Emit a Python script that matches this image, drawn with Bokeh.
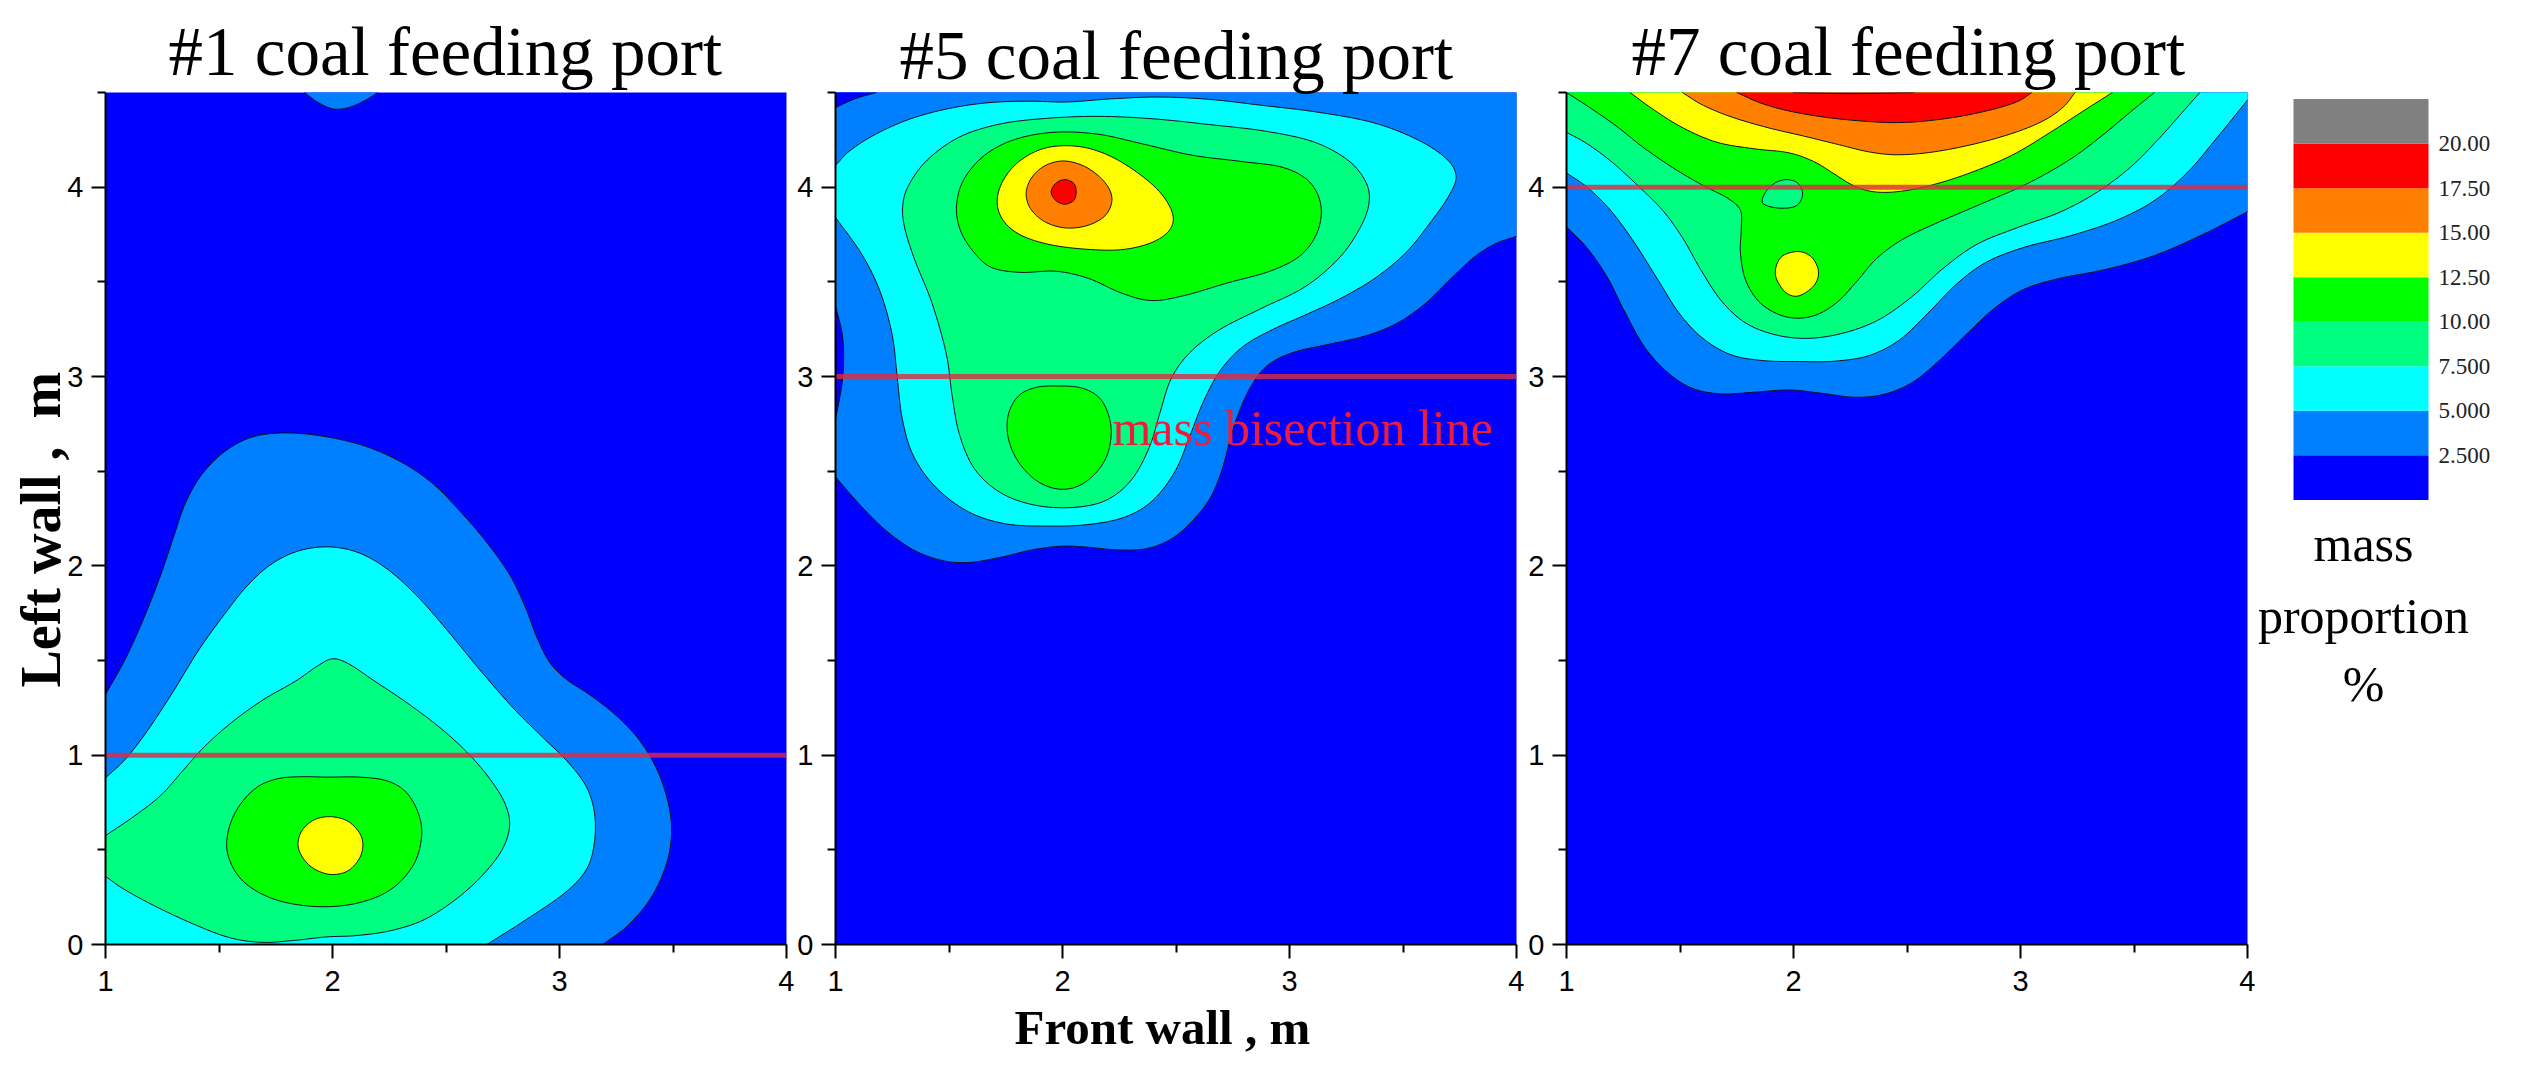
import numpy as np
from bokeh.plotting import figure
from bokeh.layouts import row
from bokeh.models import Range1d, FixedTicker, Label, ColumnDataSource, Title
from bokeh.core.properties import value
from bokeh.embed import file_html
from bokeh.resources import INLINE

# ---------------- categories / levels ----------------
TITLES = ["#1 coal feeding port", "#5 coal feeding port", "#7 coal feeding port"]
LEVELS = [0.0, 2.5, 5.0, 7.5, 10.0, 12.5, 15.0, 17.5, 20.0, 22.5]
LEVEL_LABELS = ["2.500", "5.000", "7.500", "10.00", "12.50", "15.00", "17.50", "20.00"]
LEVEL_COLORS = ["#0000ff", "#0080ff", "#00ffff", "#00ff80", "#00ff00",
                "#ffff00", "#ff8000", "#ff0000", "#808080"]
X_TICKS = [1, 2, 3, 4]
X_MINOR = [1.5, 2.5, 3.5]
Y_TICKS = [0, 1, 2, 3, 4]
Y_MINOR = [0.5, 1.5, 2.5, 3.5, 4.5]
BISECTION = [1.0, 3.0, 4.0]

# ---------------- contour lines (front wall, left wall) ----------------
# Panel #1
A_25 = [(1.0,1.32),(1.09,1.50),(1.18,1.75),(1.25,1.97),(1.295,2.13),(1.35,2.35),(1.42,2.49),(1.53,2.62),
        (1.64,2.69),(1.78,2.71),(1.96,2.69),(2.15,2.64),(2.31,2.55),(2.45,2.44),(2.56,2.29),(2.68,2.13),
        (2.79,1.95),(2.85,1.79),(2.90,1.61),(2.955,1.48),(3.02,1.40),(3.14,1.32),(3.255,1.21),(3.36,1.08),
        (3.44,0.92),(3.49,0.72),(3.50,0.575),(3.475,0.41),(3.405,0.23),(3.30,0.087),(3.19,0.0)]
A_25_TOP = [(1.876,4.5),(1.94,4.44),(2.01,4.40),(2.08,4.42),(2.15,4.46),(2.2,4.5)]
A_50 = [(1.0,0.88),(1.09,0.97),(1.18,1.12),(1.295,1.32),(1.41,1.57),(1.53,1.75),(1.62,1.90),(1.73,2.02),
        (1.85,2.09),(1.99,2.11),(2.12,2.08),(2.25,1.985),(2.38,1.84),(2.52,1.64),(2.655,1.44),(2.805,1.23),
        (2.93,1.09),(3.05,0.955),(3.13,0.83),(3.16,0.70),(3.16,0.54),(3.13,0.39),(3.05,0.285),(2.84,0.12),(2.68,0.0)]
A_75 = [(1.0,0.575),(1.13,0.68),(1.25,0.78),(1.34,0.92),(1.43,1.045),(1.55,1.17),(1.69,1.30),(1.85,1.39),
        (1.94,1.48),(2.0,1.525),(2.07,1.49),(2.17,1.40),(2.33,1.28),(2.49,1.135),(2.61,1.0),(2.70,0.87),
        (2.77,0.74),(2.79,0.63),(2.76,0.50),(2.655,0.35),(2.54,0.23),(2.40,0.115),(2.26,0.07),(2.10,0.04),
        (1.975,0.047),(1.825,0.018),(1.69,0.005),(1.55,0.024),(1.39,0.105),(1.20,0.21),(1.065,0.30),(1.0,0.36)]
A_100 = [(1.85,0.89),(1.975,0.88),(2.125,0.89),(2.25,0.87),(2.33,0.82),(2.39,0.68),(2.40,0.575),(2.37,0.41),
         (2.26,0.27),(2.10,0.205),(1.92,0.19),(1.73,0.23),(1.595,0.32),(1.53,0.465),(1.53,0.575),(1.57,0.72),
         (1.66,0.84),(1.75,0.88)]
A_125 = [(1.99,0.68),(2.07,0.665),(2.125,0.59),(2.14,0.53),(2.125,0.45),(2.07,0.375),(1.99,0.36),(1.91,0.395),
         (1.86,0.465),(1.84,0.53),(1.86,0.61),(1.92,0.67)]

# Panel #5
B_25 = [(4.0,3.74),(3.91,3.71),(3.82,3.645),(3.71,3.52),(3.60,3.375),(3.47,3.27),(3.34,3.21),(3.165,3.167),
        (3.01,3.135),(2.90,3.07),(2.84,2.98),(2.78,2.83),(2.74,2.69),(2.705,2.50),(2.66,2.355),(2.57,2.23),
        (2.485,2.135),(2.375,2.08),(2.245,2.08),(2.11,2.10),(2.0,2.11),(1.87,2.09),(1.72,2.04),(1.585,2.01),
        (1.475,2.02),(1.345,2.07),(1.21,2.19),(1.10,2.33),(1.0,2.47)]
B_00_CORNER = [(1.0,4.42),(1.08,4.47),(1.18,4.5)]
B_00_LEFT = [(1.0,3.375),(1.04,3.21),(1.04,3.0),(1.0,2.77)]
B_50 = [(1.0,4.115),(1.05,4.19),(1.17,4.28),(1.32,4.365),(1.50,4.42),(1.67,4.45),(1.85,4.46),(2.02,4.44),
        (2.20,4.47),(2.42,4.48),(2.64,4.47),(2.88,4.43),(3.12,4.40),(3.385,4.35),(3.58,4.25),(3.71,4.145),
        (3.75,4.06),(3.71,3.96),(3.63,3.83),(3.52,3.645),(3.385,3.52),(3.23,3.41),(3.08,3.33),(2.925,3.25),
        (2.79,3.17),(2.69,3.04),(2.62,2.875),(2.56,2.69),(2.51,2.50),(2.40,2.33),(2.29,2.25),(2.11,2.21),
        (1.94,2.21),(1.74,2.21),(1.585,2.27),(1.43,2.41),(1.33,2.58),(1.29,2.77),(1.27,3.0),(1.26,3.21),
        (1.20,3.46),(1.125,3.645),(1.0,3.84)]
B_75 = [(1.29,3.90),(1.31,4.0),(1.39,4.145),(1.54,4.28),(1.72,4.34),(1.915,4.365),(2.155,4.38),(2.40,4.365),
        (2.64,4.33),(2.90,4.30),(3.12,4.25),(3.275,4.145),(3.35,4.02),(3.36,3.92),(3.32,3.79),(3.23,3.625),
        (3.08,3.46),(2.86,3.355),(2.68,3.25),(2.55,3.125),(2.47,3.0),(2.43,2.81),(2.39,2.625),(2.31,2.44),
        (2.20,2.33),(2.05,2.30),(1.87,2.31),(1.72,2.375),(1.60,2.50),(1.54,2.69),(1.51,2.90),(1.50,3.10),
        (1.43,3.40),(1.34,3.625),(1.30,3.79)]
B_100_UP = [(1.525,3.90),(1.55,4.04),(1.65,4.18),(1.78,4.26),(1.96,4.30),(2.155,4.29),(2.35,4.23),(2.57,4.16),
            (2.79,4.135),(2.99,4.115),(3.10,4.04),(3.155,3.90),(3.13,3.75),(3.055,3.625),(2.925,3.55),(2.725,3.50),
            (2.53,3.42),(2.39,3.385),(2.265,3.43),(2.11,3.53),(1.98,3.57),(1.805,3.54),(1.67,3.56),(1.60,3.67),(1.54,3.77)]
B_100_LOW = [(1.97,2.95),(2.09,2.95),(2.17,2.90),(2.21,2.79),(2.22,2.69),(2.20,2.56),(2.13,2.46),(2.05,2.40),
             (1.96,2.40),(1.87,2.45),(1.79,2.56),(1.75,2.69),(1.755,2.81),(1.80,2.91),(1.88,2.95)]
B_125 = [(2.06,4.225),(2.18,4.19),(2.31,4.10),(2.44,3.98),(2.50,3.85),(2.485,3.77),(2.40,3.70),(2.265,3.66),
         (2.11,3.67),(1.94,3.69),(1.805,3.74),(1.73,3.82),(1.70,3.92),(1.73,4.04),(1.805,4.145),(1.915,4.22)]
B_150 = [(2.01,4.15),(2.11,4.115),(2.20,4.02),(2.23,3.94),(2.20,3.84),(2.11,3.79),(2.01,3.775),(1.915,3.81),
         (1.85,3.885),(1.83,3.97),(1.86,4.06),(1.925,4.125)]
B_175 = [(2.01,4.04),(2.05,4.02),(2.06,3.975),(2.05,3.93),(2.01,3.91),(1.97,3.93),(1.95,3.975),(1.97,4.02)]

# Panel #7
C_25 = [(1.0,3.79),(1.09,3.69),(1.18,3.54),(1.26,3.33),(1.34,3.14),(1.45,3.01),(1.55,2.925),(1.68,2.90),
        (1.82,2.915),(1.99,2.94),(2.13,2.91),(2.28,2.88),(2.405,2.90),(2.53,2.96),(2.63,3.07),(2.76,3.22),
        (2.885,3.37),(3.01,3.47),(3.155,3.52),(3.38,3.56),(3.59,3.63),(3.80,3.745),(4.0,3.87)]
C_50 = [(1.0,4.075),(1.09,4.01),(1.20,3.88),(1.30,3.71),(1.41,3.50),(1.49,3.33),(1.59,3.20),(1.72,3.10),
        (1.86,3.08),(2.03,3.08),(2.18,3.075),(2.34,3.10),(2.47,3.18),(2.59,3.33),(2.72,3.50),(2.84,3.61),
        (3.01,3.69),(3.22,3.735),(3.425,3.82),(3.59,3.915),(3.74,4.07),(3.86,4.255),(4.0,4.46)]
C_75 = [(1.0,4.29),(1.09,4.235),(1.20,4.14),(1.32,4.0),(1.43,3.88),(1.51,3.745),(1.59,3.56),(1.68,3.39),
        (1.78,3.27),(1.93,3.21),(2.07,3.19),(2.24,3.23),(2.38,3.29),(2.53,3.42),(2.655,3.575),(2.80,3.71),
        (2.99,3.79),(3.18,3.86),(3.34,3.97),(3.49,4.10),(3.61,4.255),(3.72,4.405),(3.79,4.5)]
C_100 = [(1.0,4.5),(1.09,4.43),(1.22,4.33),(1.34,4.20),(1.49,4.085),(1.61,4.0),(1.72,3.94),(1.78,3.89),
         (1.77,3.78),(1.76,3.67),(1.78,3.50),(1.84,3.39),(1.93,3.32),(2.02,3.30),(2.11,3.32),(2.20,3.39),
         (2.28,3.50),(2.36,3.63),(2.47,3.725),(2.61,3.80),(2.80,3.90),(3.03,4.01),(3.22,4.14),(3.36,4.27),
         (3.49,4.405),(3.59,4.5)]
C_75_HOLE = [(1.97,4.04),(2.02,4.02),(2.04,3.96),(2.01,3.90),(1.93,3.89),(1.865,3.915),(1.875,3.97),(1.915,4.02)]
C_125 = [(1.28,4.5),(1.385,4.405),(1.51,4.31),(1.66,4.225),(1.825,4.20),(1.99,4.19),(2.09,4.14),(2.18,4.07),
         (2.26,4.005),(2.34,3.97),(2.45,3.97),(2.59,4.0),(2.76,4.065),(2.97,4.16),(3.13,4.29),(3.28,4.405),(3.405,4.5)]
C_125_ISLE = [(2.02,3.66),(2.08,3.63),(2.11,3.555),(2.09,3.48),(2.02,3.425),(1.96,3.45),(1.92,3.54),(1.945,3.63)]
C_150 = [(1.51,4.5),(1.595,4.43),(1.72,4.37),(1.89,4.31),(2.05,4.27),(2.20,4.225),(2.34,4.18),(2.45,4.165),
         (2.61,4.18),(2.80,4.225),(2.99,4.29),(3.11,4.35),(3.20,4.425),(3.24,4.5)]
C_175 = [(1.75,4.5),(1.86,4.435),(2.01,4.39),(2.22,4.355),(2.47,4.33),(2.68,4.36),(2.87,4.405),(3.0,4.45),(3.05,4.5)]
C_200 = [(2.0,4.5),(2.26,4.49),(2.53,4.5)]

# ---------------- drawing helpers ----------------
XL, XH, YL, YH = 0.85, 4.15, -0.15, 4.65   # outside the frame: closes polygons invisibly


def soften(p, closed):
    """Take the reading jitter out of the points picked from the picture."""
    if closed:
        return 0.6 * p + 0.2 * np.roll(p, 1, axis=0) + 0.2 * np.roll(p, -1, axis=0)
    q = p.copy()
    q[1:-1] = 0.6 * p[1:-1] + 0.2 * p[:-2] + 0.2 * p[2:]
    return q


def smooth(pts, closed):
    p = np.array(pts, float)
    if not closed or len(pts) > 10:
        p = soften(p, closed)
    if closed:
        q = np.vstack([p[-1], p, p[0], p[1]])
    else:
        q = np.vstack([2 * p[0] - p[1], p, 2 * p[-1] - p[-2]])
    out = []
    t = np.linspace(0, 1, 8, endpoint=False)[:, None]
    for i in range(1, len(q) - 2):
        a, b, c, d = q[i - 1], q[i], q[i + 1], q[i + 2]
        out.append(0.5 * (2 * b + (c - a) * t + (2 * a - 5 * b + 4 * c - d) * t ** 2
                          + (3 * b - a - 3 * c + d) * t ** 3))
    out = np.vstack(out)
    if not closed:
        out = np.vstack([out, p[-1]])
    return out


def region(pts, level, closing=None):
    """closing: extra points outside the frame that finish an open contour."""
    s = smooth(pts, closing is None)
    if closing is not None:
        s = np.vstack([s, np.array(closing, float)])
    return s[:, 0].tolist(), s[:, 1].tolist(), LEVEL_COLORS[level]


PANEL_1 = [
    region(A_25, 1, [(3.19, YL), (XL, YL), (XL, 1.32)]),
    region(A_25_TOP, 1, [(2.2, YH), (1.876, YH)]),
    region(A_50, 2, [(2.68, YL), (XL, YL), (XL, 0.88)]),
    region(A_75, 3, [(XL, 0.36), (XL, 0.575)]),
    region(A_100, 4),
    region(A_125, 5),
]
PANEL_2 = [
    region(B_25, 1, [(XL, 2.47), (XL, YH), (XH, YH), (XH, 3.74)]),
    region(B_00_CORNER, 0, [(1.18, YH), (XL, YH), (XL, 4.42)]),
    region(B_00_LEFT, 0, [(XL, 2.77), (XL, 3.375)]),
    region(B_50, 2, [(XL, 3.84), (XL, 4.115)]),
    region(B_75, 3),
    region(B_100_UP, 4),
    region(B_100_LOW, 4),
    region(B_125, 5),
    region(B_150, 6),
    region(B_175, 7),
]
PANEL_3 = [
    region(C_25, 1, [(XH, 3.87), (XH, YH), (XL, YH), (XL, 3.79)]),
    region(C_50, 2, [(XH, 4.46), (XH, YH), (XL, YH), (XL, 4.075)]),
    region(C_75, 3, [(3.79, YH), (XL, YH), (XL, 4.29)]),
    region(C_100, 4, [(3.59, YH), (XL, YH), (XL, 4.5)]),
    region(C_75_HOLE, 3),
    region(C_125, 5, [(3.405, YH), (1.28, YH)]),
    region(C_125_ISLE, 5),
    region(C_150, 6, [(3.24, YH), (1.51, YH)]),
    region(C_175, 7, [(3.05, YH), (1.75, YH)]),
    region(C_200, 8, [(2.53, YH), (2.0, YH)]),
]

FRAME_W, FRAME_H = 681, 852
BORDER_TOP, BORDER_BOTTOM = 92, 132
SERIF = "Liberation Serif"
SANS = "Liberation Sans"


def panel(regions, title, title_standoff, title_offset, line_y, left, right):
    p = figure(frame_width=FRAME_W, frame_height=FRAME_H, output_backend="svg", toolbar_location=None,
               x_range=Range1d(1, 4), y_range=Range1d(0, 4.5), title=None,
               min_border_left=left, min_border_right=right,
               min_border_top=BORDER_TOP, min_border_bottom=BORDER_BOTTOM,
               background_fill_color=LEVEL_COLORS[0], border_fill_color="white")
    p.outline_line_color = None
    p.grid.visible = False
    src = ColumnDataSource(dict(xs=[r[0] for r in regions], ys=[r[1] for r in regions],
                                fc=[r[2] for r in regions]))
    p.patches("xs", "ys", source=src, fill_color="fc", line_color="#101020", line_width=1)
    p.line([1, 4], [line_y, line_y], line_color="#e02a40", line_alpha=0.8, line_width=5)

    p.xaxis.ticker = FixedTicker(ticks=X_TICKS, minor_ticks=X_MINOR)
    p.yaxis.ticker = FixedTicker(ticks=Y_TICKS, minor_ticks=Y_MINOR)
    for ax in (p.xaxis[0], p.yaxis[0]):
        ax.axis_line_color = "black"
        ax.axis_line_width = 2
        ax.major_tick_line_color = "black"
        ax.major_tick_line_width = 2
        ax.minor_tick_line_color = "black"
        ax.minor_tick_line_width = 2
        ax.major_tick_in = 0
        ax.major_tick_out = 14
        ax.minor_tick_in = 0
        ax.minor_tick_out = 8
        ax.major_label_text_font = SANS
        ax.major_label_text_font_size = "29px"
        ax.major_label_text_color = "black"
    p.xaxis.major_label_standoff = 12
    p.yaxis.major_label_standoff = 8
    p.add_layout(Title(text=title, text_font=SERIF, text_font_size="69px", text_font_style="normal",
                       text_color="black", align="left", offset=title_offset,
                       standoff=title_standoff), "above")
    return p


p1 = panel(PANEL_1, TITLES[0], 6, 63, BISECTION[0], 105, 8)
p2 = panel(PANEL_2, TITLES[1], -2, 64, BISECTION[1], 40, 8)
p3 = panel(PANEL_3, TITLES[2], 5, 65, BISECTION[2], 42, 8)

p1.add_layout(Title(text="Left wall ,\u00a0\u00a0m", text_font=SERIF, text_font_style="bold", text_font_size="56px",
                    text_color="black", align="left", offset=257, standoff=-14), "left")
p2.add_layout(Title(text="Front wall , m", text_font=SERIF, text_font_style="bold", text_font_size="49px",
                    text_color="black", align="left", offset=179, standoff=9), "below")
p2.add_layout(Label(x=2.22, y=2.73, text="mass bisection line", text_font=SERIF, text_font_size="50px",
                    text_align="left", text_baseline="alphabetic", text_color="#ee1c3c"))

# ---------------- colour scale panel, drawn in value space ----------------
BAND_PX = 44.53
y_low = 0 - (944 - 499.4) / BAND_PX * 2.5
y_high = 22.5 + (98.6 - 92) / BAND_PX * 2.5
pc = figure(frame_width=273, frame_height=FRAME_H, output_backend="svg", toolbar_location=None,
            x_range=Range1d(0, 273), y_range=Range1d(y_low, y_high),
            min_border_left=0, min_border_right=0,
            min_border_top=BORDER_TOP, min_border_bottom=BORDER_BOTTOM)
pc.outline_line_color = None
pc.grid.visible = False
pc.axis.visible = False
pc.quad(left=38, right=173, bottom=LEVELS[:-1], top=LEVELS[1:], fill_color=LEVEL_COLORS, line_color=None)
pc.text(x=[183] * len(LEVEL_LABELS), y=LEVELS[1:-1], text=LEVEL_LABELS, text_font=value(SERIF),
        text_font_size="23px", text_align="left", text_baseline="middle", text_color="#222222")
for word, py in (("mass", 544), ("proportion", 616), ("%", 684)):
    pc.add_layout(Label(x=108, y=y_low + (944 - py) / BAND_PX * 2.5, text=word, text_font=SERIF,
                        text_font_size="50px", text_align="center", text_baseline="middle",
                        text_color="black"))

layout = row(p1, p2, p3, pc, spacing=0)
open("out.html", "w").write(file_html(layout, INLINE))
